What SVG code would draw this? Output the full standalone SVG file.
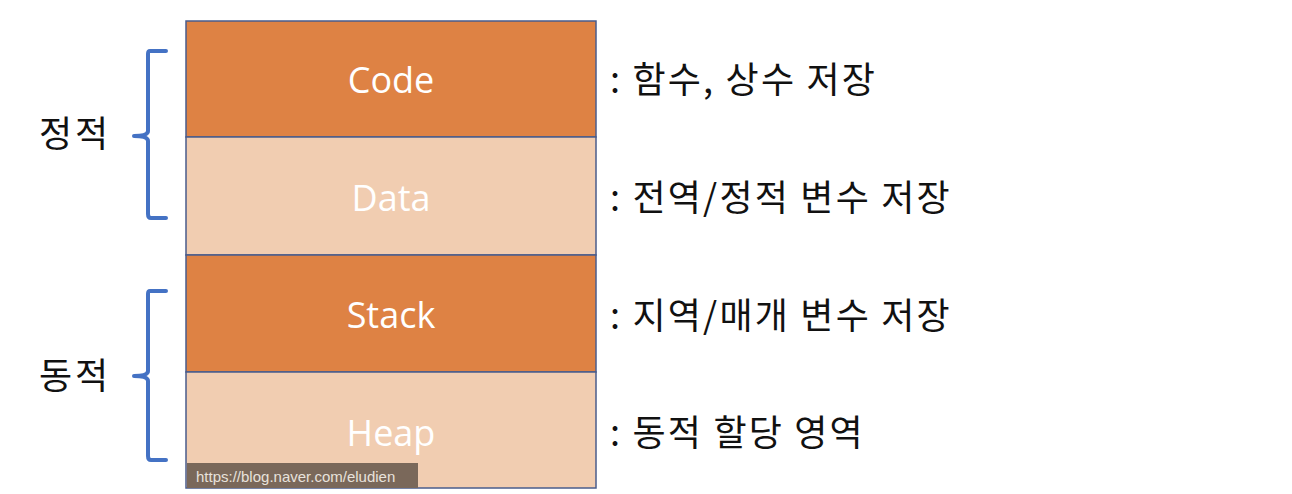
<svg xmlns="http://www.w3.org/2000/svg" width="1292" height="494" viewBox="0 0 1292 494">
<style>
.dark{fill:#DE8244;stroke:#4A5C8C;stroke-width:1.5}
.light{fill:#F1CDB1;stroke:#4A5C8C;stroke-width:1.5}
.seg{font-family:"Open Sans","Noto Sans",sans-serif;font-size:36px;fill:#ffffff;text-anchor:middle}
.desc{font-family:"Noto Sans CJK KR","Noto Sans",sans-serif;font-size:36px;fill:#111111;letter-spacing:2.2px}
.brace{fill:none;stroke:#4472C4;stroke-width:4;stroke-linecap:round;stroke-linejoin:round}
</style>
<rect width="1292" height="494" fill="#ffffff"/>
<g id="code"><rect class="dark" x="186" y="21" width="410" height="116"/><text class="seg" x="391" y="93">Code</text></g>
<g id="data"><rect class="light" x="186" y="137" width="410" height="118"/><text class="seg" x="391" y="211">Data</text></g>
<g id="stack"><rect class="dark" x="186" y="255" width="410" height="117"/><text class="seg" x="391" y="328">Stack</text></g>
<g id="heap"><rect class="light" x="186" y="372" width="410" height="116"/><text class="seg" x="391" y="446">Heap</text></g>
<g id="watermark"><rect x="187" y="463" width="231" height="25" fill="#7A685A"/><text x="196" y="482" font-family="Liberation Sans,Arial,sans-serif" font-size="15" fill="#E8E2DC">https://blog.naver.com/eludien</text></g>
<g id="braces">
<path class="brace" d="M166,51 L150,51 Q148,51 148,54 L148,131 Q148,136 134,136 Q148,136 148,141 L148,214 Q148,218 151,218 L166,218"/>
<path class="brace" d="M166,291 L150,291 Q148,291 148,294 L148,371 Q148,376 134,376 Q148,376 148,381 L148,456 Q148,460 151,460 L166,460"/>
</g>
<g id="labels">
<text class="desc" x="39" y="147" style="letter-spacing:3px">정적</text>
<text class="desc" x="39" y="389" style="letter-spacing:3px">동적</text>
<text class="desc" x="610" y="93">: 함수, 상수 저장</text>
<text class="desc" x="610" y="211">: 전역/정적 변수 저장</text>
<text class="desc" x="610" y="329">: 지역/매개 변수 저장</text>
<text class="desc" x="610" y="446">: 동적 할당 영역</text>
</g>
</svg>
